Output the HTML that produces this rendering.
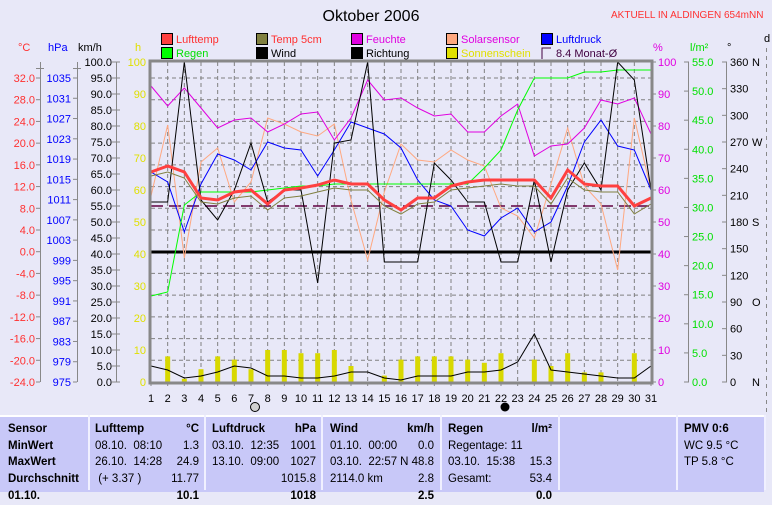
<!DOCTYPE html>
<html><head><meta charset="utf-8"><style>
body{margin:0;width:772px;height:490px;overflow:hidden;background:#e8e8f8;font-family:"Liberation Sans",sans-serif;}
svg{position:absolute;left:0;top:0}
.t{position:absolute;font-size:11.5px;white-space:nowrap}
</style></head><body>
<svg width="772" height="490" xmlns="http://www.w3.org/2000/svg" font-family="Liberation Sans, sans-serif" font-size="11">
<text x="371" y="21" font-size="16" text-anchor="middle">Oktober 2006</text>
<text x="611" y="18" font-size="10" fill="#ff3030">AKTUELL IN ALDINGEN 654mNN</text>
<g font-size="11">
<rect x="161.5" y="33.5" width="11" height="11" fill="#ff4040" stroke="#000"/><text x="176" y="43" fill="#ff3030">Lufttemp</text>
<rect x="161.5" y="47.5" width="11" height="11" fill="#00ff00" stroke="#000"/><text x="176" y="57" fill="#00e000">Regen</text>
<rect x="256.5" y="33.5" width="11" height="11" fill="#808040" stroke="#000"/><text x="271" y="43" fill="#ff3030">Temp 5cm</text>
<rect x="256.5" y="47.5" width="11" height="11" fill="#000" stroke="#000"/><text x="271" y="57">Wind</text>
<rect x="351.5" y="33.5" width="11" height="11" fill="#e000e0" stroke="#000"/><text x="366" y="43" fill="#e000e0">Feuchte</text>
<rect x="351.5" y="47.5" width="11" height="11" fill="#000" stroke="#000"/><text x="366" y="57">Richtung</text>
<rect x="446.5" y="33.5" width="11" height="11" fill="#ffa880" stroke="#000"/><text x="461" y="43" fill="#e000e0">Solarsensor</text>
<rect x="446.5" y="47.5" width="11" height="11" fill="#e0e000" stroke="#000"/><text x="461" y="57" fill="#e0e000">Sonnenschein</text>
<rect x="541.5" y="33.5" width="11" height="11" fill="#0000ff" stroke="#000"/><text x="556" y="43" fill="#0000ff">Luftdruck</text>
<path d="M542 59V48h9" fill="none" stroke="#400040"/><text x="556" y="57" fill="#400040">8.4 Monat-Ø</text>
</g>
<text x="18" y="51" fill="#ff3030">°C</text>
<text x="48" y="51" fill="#0000ff">hPa</text>
<text x="78" y="51">km/h</text>
<text x="135" y="51" fill="#e0e000">h</text>
<text x="653" y="51" fill="#e000e0">%</text>
<text x="690" y="51" fill="#00e000">l/m²</text>
<text x="727" y="51">°</text>
<text x="764" y="42">d</text>
<line x1="766.5" y1="48" x2="766.5" y2="415" stroke="#888" stroke-dasharray="4,4"/>
<g id="grid" stroke="#808080" stroke-dasharray="4,3"></g>
<g id="axes" stroke="#888"></g>
<g id="lbl"></g>
<g id="bars" fill="#d8d800"></g>
<g id="lines" fill="none"></g>
<rect x="150" y="61" width="502" height="322" fill="none" stroke="#888" stroke-width="3"/>
<circle cx="255" cy="407" r="4.5" fill="#d0d0d0" stroke="#000"/>
<circle cx="505" cy="407" r="4.5" fill="#000"/>
</svg>
<div style="position:absolute;left:0;top:415px;width:764px;height:75px;background:#c8c8f8;border-top:2px solid #fff"></div>
<div style="position:absolute;left:88px;top:415px;width:2px;height:75px;background:#f0f0ff"></div>
<div style="position:absolute;left:204px;top:415px;width:2px;height:75px;background:#f0f0ff"></div>
<div style="position:absolute;left:321px;top:415px;width:2px;height:75px;background:#f0f0ff"></div>
<div style="position:absolute;left:440px;top:415px;width:2px;height:75px;background:#f0f0ff"></div>
<div style="position:absolute;left:558px;top:415px;width:2px;height:75px;background:#f0f0ff"></div>
<div style="position:absolute;left:676px;top:415px;width:2px;height:75px;background:#f0f0ff"></div>
<div style="position:absolute;left:764px;top:415px;width:2px;height:75px;background:#f0f0ff"></div>
<div class="t" style="left:8px;top:421px;font-weight:bold;line-height:16.7px">Sensor<br>MinWert<br>MaxWert<br>Durchschnitt<br>01.10.</div>
<div class="t" style="left:95px;top:421px;line-height:16.7px"><b>Lufttemp</b><br>08.10.&nbsp; 08:10<br>26.10.&nbsp; 14:28<br>&nbsp;(+ 3.37 )</div>
<div class="t" style="right:573px;top:421px;line-height:16.7px;text-align:right"><b>°C</b><br>1.3<br>24.9<br>11.77<br><b>10.1</b></div>
<div class="t" style="left:212px;top:421px;line-height:16.7px"><b>Luftdruck</b><br>03.10.&nbsp; 12:35<br>13.10.&nbsp; 09:00</div>
<div class="t" style="right:456px;top:421px;line-height:16.7px;text-align:right"><b>hPa</b><br>1001<br>1027<br>1015.8<br><b>1018</b></div>
<div class="t" style="left:330px;top:421px;line-height:16.7px"><b>Wind</b><br>01.10.&nbsp; 00:00<br>03.10.&nbsp; 22:57<br>2114.0 km</div>
<div class="t" style="right:338px;top:421px;line-height:16.7px;text-align:right"><b>km/h</b><br>0.0<br>N 48.8<br>2.8<br><b>2.5</b></div>
<div class="t" style="left:448px;top:421px;line-height:16.7px"><b>Regen</b><br>Regentage: 11<br>03.10.&nbsp; 15:38<br>Gesamt:</div>
<div class="t" style="right:220px;top:421px;line-height:16.7px;text-align:right"><b>l/m²</b><br><br>15.3<br>53.4<br><b>0.0</b></div>
<div class="t" style="left:684px;top:421px;line-height:16.7px"><b>PMV 0:6</b><br>WC 9.5 °C<br>TP 5.8 °C</div>
<script>
const NS="http://www.w3.org/2000/svg";
function el(p,t,a,txt){const e=document.createElementNS(NS,t);for(const k in a)e.setAttribute(k,a[k]);if(txt!==undefined)e.textContent=txt;document.getElementById(p).appendChild(e);return e;}
const X=d=>151+(d-1)*500/30;
for(let d=2;d<=30;d++)el("grid","line",{x1:X(d),y1:62,x2:X(d),y2:382});
for(let i=0;i<14;i++){const y=78+i*304/14;el("grid","line",{x1:151,y1:y,x2:651,y2:y});}
function axis(x,y1,y2){el("axes","line",{x1:x+.5,y1:y1,x2:x+.5,y2:y2});}
axis(40,62,382);axis(77,62,382);axis(116,62,382);axis(688,62,382);axis(726,62,382);
el("axes","line",{x1:36,y1:68.5,x2:44,y2:68.5});el("axes","line",{x1:73,y1:68.5,x2:81,y2:68.5});
const C=["32.0","28.0","24.0","20.0","16.0","12.0","8.0","4.0","0.0","-4.0","-8.0","-12.0","-16.0","-20.0","-24.0"];
C.forEach((s,i)=>{const y=78+i*304/14;el("axes","line",{x1:36,y1:y,x2:40,y2:y});el("lbl","text",{x:35,y:y+4,"text-anchor":"end",fill:"#ff3030"},s);});
for(let i=0;i<16;i++){const y=78+i*304/15;el("axes","line",{x1:73,y1:y,x2:77,y2:y});el("lbl","text",{x:71,y:y+4,"text-anchor":"end",fill:"#0000ff"},String(1035-4*i));}
for(let i=0;i<=20;i++){const y=62+i*16;el("axes","line",{x1:112,y1:y,x2:120,y2:y});el("lbl","text",{x:112,y:y+4,"text-anchor":"end"},(100-5*i).toFixed(1));}
for(let i=0;i<=10;i++){const y=62+i*32;el("axes","line",{x1:651,y1:y,x2:656,y2:y});el("lbl","text",{x:146,y:y+4,"text-anchor":"end",fill:"#e0e000"},String(100-10*i));el("lbl","text",{x:658,y:y+4,fill:"#e000e0"},String(100-10*i));}
for(let i=0;i<=11;i++){const y=62+i*320/11;el("axes","line",{x1:684,y1:y,x2:689,y2:y});el("lbl","text",{x:692,y:y+4,fill:"#00e000"},(55-5*i).toFixed(1));}
const D={0:"N",3:"W",6:"S",9:"O",12:"N"};
for(let i=0;i<=12;i++){const y=62+i*320/12;el("axes","line",{x1:722,y1:y,x2:727,y2:y});el("lbl","text",{x:730,y:y+4},String(360-30*i));if(D[i])el("lbl","text",{x:752,y:y+4},D[i]);}
for(let d=1;d<=31;d++){el("lbl","text",{x:X(d),y:402,"text-anchor":"middle"},String(d));el("axes","line",{x1:X(d),y1:382,x2:X(d),y2:386});}
const sun=[0,8,1,4,8,7,4,10,10,9,9,10,5,0,2,7,8,8,8,7,6,9,0,7,5,9,3,3,0,9,0];
sun.forEach((v,i)=>{if(v>0)el("bars","rect",{x:X(i+1)-2.5,y:382-3.2*v,width:5,height:3.2*v});});
function line(ys,col,w,dash){el("lines","polyline",{points:ys.map((y,i)=>X(i+1)+","+y).join(" "),stroke:col,"stroke-width":w||1,"stroke-dasharray":dash||"none"});}
el("lines","line",{x1:151,y1:252,x2:651,y2:252,stroke:"#000","stroke-width":3});
el("lines","line",{x1:151,y1:206,x2:651,y2:206,stroke:"#600040","stroke-width":1.5,"stroke-dasharray":"12,6"});
line([196,125,258,162,148,202,182,118,124,132,136,124,200,260,192,144,160,162,150,160,166,208,216,238,184,128,186,204,270,118,190],"#ffa880");
line([86,106,88,108,128,120,118,132,124,114,112,140,118,80,100,98,108,116,114,132,132,116,104,156,146,144,128,100,104,98,134],"#e000e0");
line([172,182,232,184,154,160,170,142,148,150,176,150,122,128,134,148,180,200,206,230,236,218,208,232,222,186,142,120,146,150,190],"#0000ff");
line([296,292,205,192,192,192,192,190,188,186,186,184,184,184,184,184,184,184,184,184,168,150,110,78,78,78,72,72,70,70,70],"#00ff00");
line([202,202,62,200,220,190,143,202,190,190,283,143,140,62,262,262,262,163,180,202,202,262,262,180,262,190,163,190,62,80,190],"#000");
line([366,370,378,376,372,366,368,376,376,378,378,376,372,372,378,380,376,376,376,372,372,370,362,334,370,372,374,376,378,378,366],"#000");
line([176,172,178,202,204,198,196,210,198,196,192,188,190,190,206,214,204,202,190,188,186,184,186,186,204,178,190,192,192,214,204],"#808040");
line([172,166,172,198,200,192,190,204,190,188,185,180,184,184,200,210,198,198,186,182,180,180,180,180,198,170,184,186,186,206,198],"#ff4040",3);
</script>
</body></html>
